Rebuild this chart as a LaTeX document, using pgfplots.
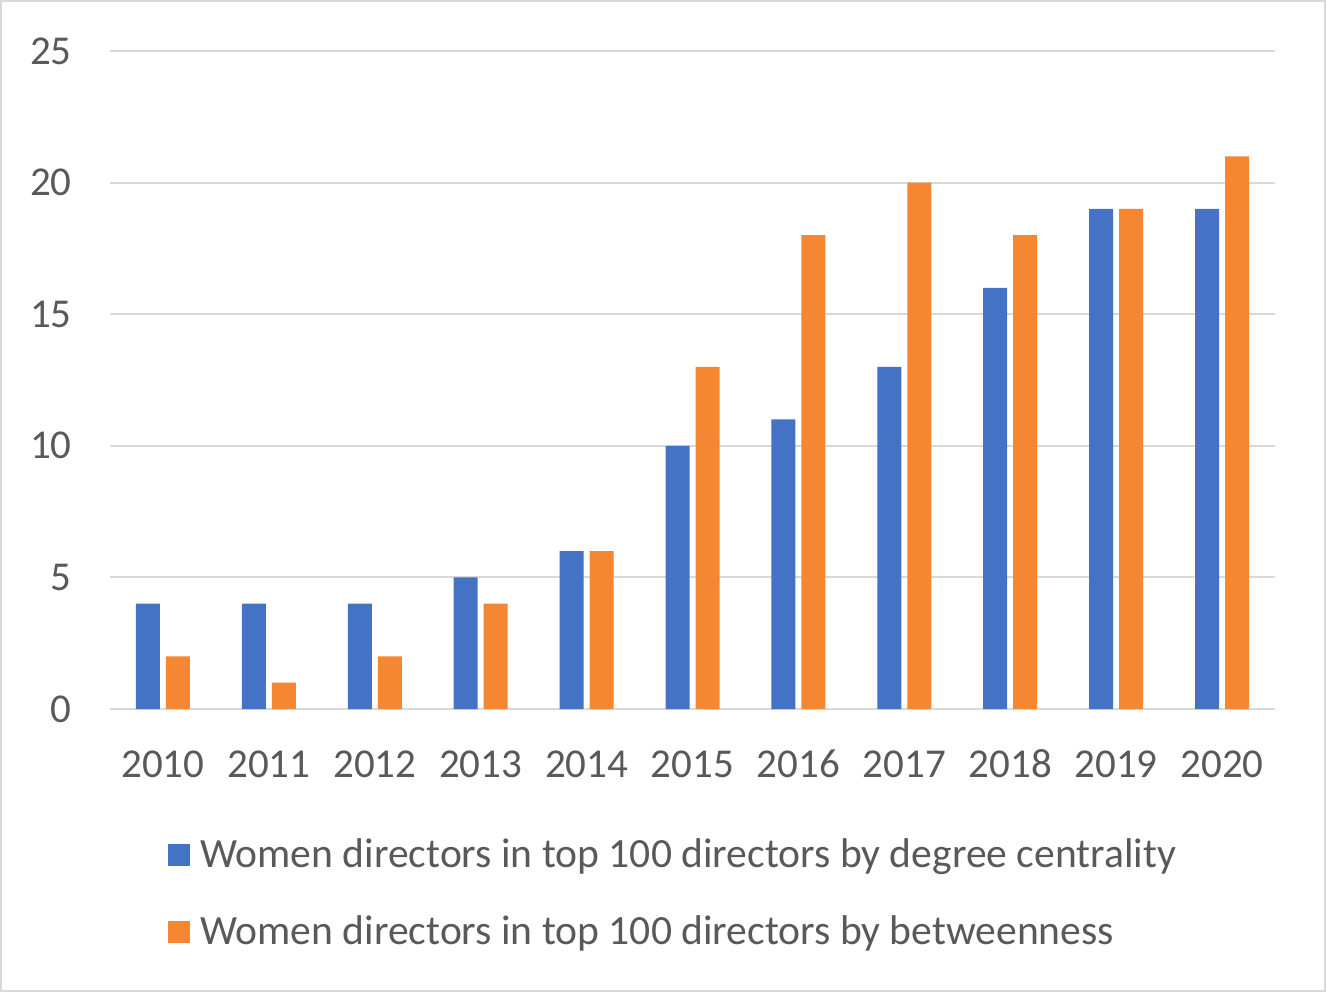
\documentclass[border=0pt]{standalone}
\usepackage{pgfplots}
\pgfplotsset{compat=1.18}
\usepackage{fontspec}
\setmainfont{Carlito}
\definecolor{cblue}{HTML}{4472C4}
\definecolor{corange}{HTML}{F58733}
\definecolor{ctext}{HTML}{595959}
\definecolor{cgrid}{HTML}{D9D9D9}
\begin{document}
\begin{tikzpicture}
\path[use as bounding box] (0,0) rectangle (663pt,496pt);
\draw[cgrid, line width=0.8pt] (0.4pt,0.4pt) rectangle (662.6pt,495.6pt);
\begin{axis}[
  at={(55pt,141.5pt)}, anchor=south west,
  scale only axis, width=582.5pt, height=329pt,
  ybar=3pt, bar width=12pt,
  xmin=-0.5, xmax=10.5, ymin=0, ymax=25,
  xtick={0,...,10},
  xticklabels={2010,2011,2012,2013,2014,2015,2016,2017,2018,2019,2020},
  ytick={0,5,10,15,20,25},
  axis x line*=bottom, axis y line*=left,
  x axis line style={cgrid, line width=1pt, -},
  y axis line style={draw=none},
  ymajorgrids, grid style={cgrid, line width=1pt},
  major tick length=0pt,
  tick label style={font=\fontsize{20.5}{24}\selectfont, text=ctext},
  /pgf/number format/assume math mode=true,
  yticklabel style={anchor=east, inner sep=0pt, xshift=-19pt},
  xticklabel style={anchor=north, inner sep=0pt, yshift=-20pt, text height=14pt},
  legend style={at={(0.0498,-0.191)}, anchor=north west, draw=none, fill=none,
    font=\fontsize{20.8}{24}\selectfont, text=ctext, inner sep=0pt,
    row sep=18.5pt, cells={anchor=west}},
  legend cell align=left,
  legend image code/.code={\fill[#1] (0pt,-5.5pt) rectangle (11pt,5.5pt); \path (14pt,0pt);},
]
\addplot[fill=cblue, draw=none] coordinates {(0,4) (1,4) (2,4) (3,5) (4,6) (5,10) (6,11) (7,13) (8,16) (9,19) (10,19)};
\addplot[fill=corange, draw=none] coordinates {(0,2) (1,1) (2,2) (3,4) (4,6) (5,13) (6,18) (7,20) (8,18) (9,19) (10,21)};
\legend{Women directors in top 100 directors by degree centrality, Women directors in top 100 directors by betweenness}
\end{axis}
\end{tikzpicture}
\end{document}
